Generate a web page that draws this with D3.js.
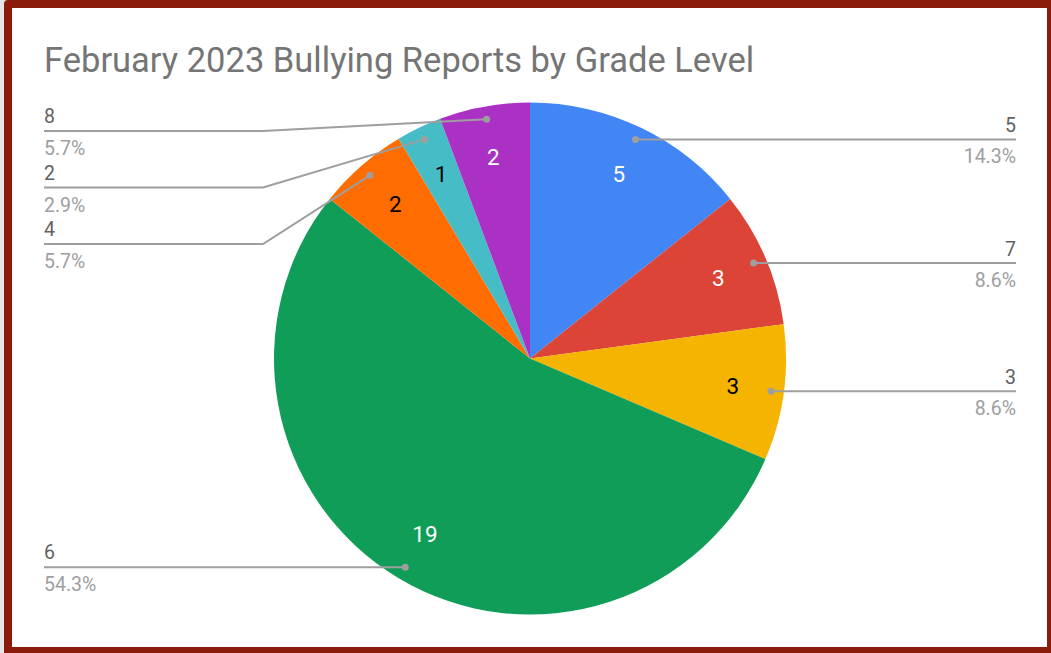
<!DOCTYPE html>
<html>
<head>
<meta charset="utf-8">
<script src="https://cdn.jsdelivr.net/npm/d3@7"></script>
<style>
  html, body { margin: 0; padding: 0; background: #e6e6e6; }
  #frame { position: absolute; left: 4px; top: 0; width: 1035px; height: 639px;
           border-style: solid; border-color: #8b1c0b;
           border-width: 8px 4px 6px 8px; border-radius: 4px 0 0 0; background: #fff; }
  svg { position: absolute; left: 0; top: 0; }
</style>
</head>
<body>
<div id="frame"></div>
<svg id="chart" width="1051" height="653"></svg>
<script>
const title = "February 2023 Bullying Reports by Grade Level";
const categories = ["5", "7", "3", "6", "4", "2", "8"];
const values = [5, 3, 3, 19, 2, 1, 2];
const colors = ["#4285f4", "#db4437", "#f4b400", "#0f9d58", "#ff6d01", "#46bdc6", "#ab30c4"];
const valueTextColors = ["#ffffff", "#ffffff", "#000000", "#ffffff", "#000000", "#000000", "#ffffff"];

const svg = d3.select("#chart");
const cx = 530, cy = 358.5, R = 256;
const total = d3.sum(values);
const fmtPct = v => (v / total * 100).toFixed(1) + "%";
const labelFont = 19.5;

svg.append("text").attr("x", 44).attr("y", 72)
  .attr("font-family", "Roboto, sans-serif").attr("font-size", 34.5)
  .attr("fill", "#757575").text(title);

const data = categories.map((c, i) => ({ cat: c, value: values[i], color: colors[i], tc: valueTextColors[i] }));
const pie = d3.pie().value(d => d.value).sort(null);
const arcs = pie(data);
const arc = d3.arc().innerRadius(0).outerRadius(R);
const g = svg.append("g").attr("transform", `translate(${cx},${cy})`);
g.selectAll("path").data(arcs).join("path").attr("d", arc).attr("fill", d => d.data.color);

const labelArc = d3.arc().innerRadius(R * 0.8).outerRadius(R * 0.8);
g.selectAll("text.val").data(arcs).join("text").attr("class", "val")
  .attr("transform", d => `translate(${labelArc.centroid(d)})`)
  .attr("text-anchor", "middle").attr("dy", "0.36em")
  .attr("font-family", "Roboto, sans-serif").attr("font-size", 22.5)
  .attr("fill", d => d.data.tc).text(d => d.data.value);

// leader dots
const dotR = R * 0.95;
const pts = arcs.map(d => {
  const a = (d.startAngle + d.endAngle) / 2;
  return { d, a, x: cx + dotR * Math.sin(a), y: cy - dotR * Math.cos(a) };
});
const right = pts.filter(p => p.a < Math.PI).sort((a, b) => a.y - b.y);
const left = pts.filter(p => p.a >= Math.PI).sort((a, b) => a.y - b.y);
const minY = 131, gap = 56.5;
let prev = -Infinity;
right.forEach(p => { p.ly = Math.max(p.y, minY, prev + gap); prev = p.ly; });
prev = -Infinity;
left.forEach(p => { p.ly = Math.max(p.y, minY, prev + gap); prev = p.ly; });

const lineColor = "#9e9e9e";
right.forEach(p => {
  svg.append("polyline").attr("points", `${p.x},${p.y} ${p.x + 20},${p.ly} 1016,${p.ly}`)
    .attr("fill", "none").attr("stroke", lineColor).attr("stroke-width", 2);
  svg.append("circle").attr("cx", p.x).attr("cy", p.y).attr("r", 3.5).attr("fill", "#9e9e9e");
  svg.append("text").attr("x", 1016).attr("y", p.ly - 7).attr("text-anchor", "end")
    .attr("font-family", "Roboto, sans-serif").attr("font-size", labelFont).attr("fill", "#616161").text(p.d.data.cat);
  svg.append("text").attr("x", 1016).attr("y", p.ly + 24).attr("text-anchor", "end")
    .attr("font-family", "Roboto, sans-serif").attr("font-size", labelFont).attr("fill", "#9e9e9e").text(fmtPct(p.d.data.value));
});
left.forEach(p => {
  const pts2 = Math.abs(p.ly - p.y) < 0.5 ? `44,${p.ly} ${p.x},${p.y}` : `44,${p.ly} 263,${p.ly} ${p.x},${p.y}`;
  svg.append("polyline").attr("points", pts2)
    .attr("fill", "none").attr("stroke", lineColor).attr("stroke-width", 2);
  svg.append("circle").attr("cx", p.x).attr("cy", p.y).attr("r", 3.5).attr("fill", "#9e9e9e");
  svg.append("text").attr("x", 44).attr("y", p.ly - 8)
    .attr("font-family", "Roboto, sans-serif").attr("font-size", labelFont).attr("fill", "#616161").text(p.d.data.cat);
  svg.append("text").attr("x", 44).attr("y", p.ly + 24)
    .attr("font-family", "Roboto, sans-serif").attr("font-size", labelFont).attr("fill", "#9e9e9e").text(fmtPct(p.d.data.value));
});
</script>
</body>
</html>
